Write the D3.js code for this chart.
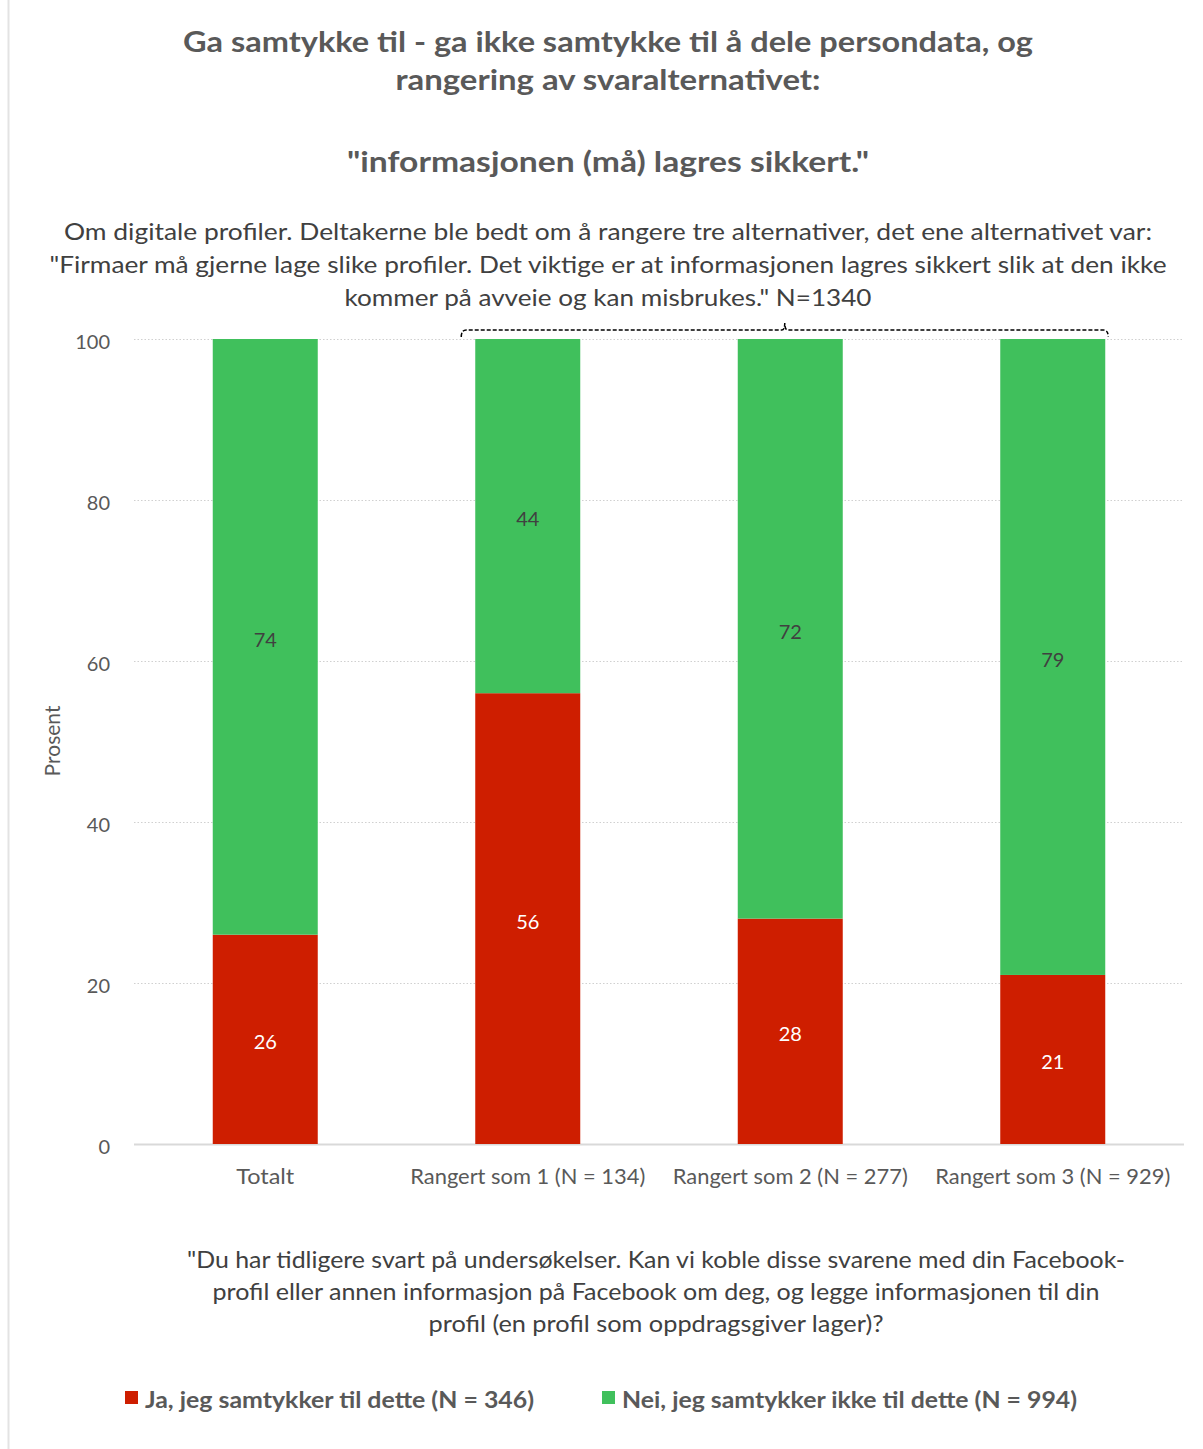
<!DOCTYPE html>
<html><head><meta charset="utf-8">
<script src="https://cdn.jsdelivr.net/npm/d3@7"></script>
<style>body{margin:0;background:#fff}svg{display:block}text{font-family:Lato,"Open Sans",sans-serif}</style>
</head><body><div id="c"></div>
<script>
const categories = ["Totalt","Rangert som 1 (N = 134)","Rangert som 2 (N = 277)","Rangert som 3 (N = 929)"];
const jaValues = [26,56,28,21];
const neiValues = [74,44,72,79];
const seriesNames = ["Ja, jeg samtykker til dette (N = 346)","Nei, jeg samtykker ikke til dette (N = 994)"];
const yTicks = [0,20,40,60,80,100];
const titleLines = ["Ga samtykke til - ga ikke samtykke til å dele persondata, og","rangering av svaralternativet:","","\"informasjonen (må) lagres sikkert.\""];
const subtitleLines = ["Om digitale profiler. Deltakerne ble bedt om å rangere tre alternativer, det ene alternativet var:","\"Firmaer må gjerne lage slike profiler. Det viktige er at informasjonen lagres sikkert slik at den ikke","kommer på avveie og kan misbrukes.\" N=1340"];
const captionLines = ["\"Du har tidligere svart på undersøkelser. Kan vi koble disse svarene med din Facebook-","profil eller annen informasjon på Facebook om deg, og legge informasjonen til din","profil (en profil som oppdragsgiver lager)?"];

const W=1203,H=1449;
const colors=["#CE1E00","#40C05C"];
const svg=d3.select("#c").append("svg").attr("width",W).attr("height",H);
svg.append("line").attr("x1",8.5).attr("x2",8.5).attr("y1",0).attr("y2",H).attr("stroke","#e3e3e3").attr("stroke-width",2);

function fitText(sel,w){
  if(w) sel.attr("textLength",w).attr("lengthAdjust","spacingAndGlyphs");
}
const titleY=[52,90,null,172];
const titleW=[850,425,null,522];
titleLines.forEach((t,i)=>{ if(!t) return;
  const s=svg.append("text").attr("x",608).attr("y",titleY[i]).attr("text-anchor","middle").attr("font-size",29).attr("font-weight","bold").attr("fill","#595959").text(t);
  fitText(s,titleW[i]);
});
const subY=[240,273,306], subW=[1088,1117,527];
subtitleLines.forEach((t,i)=>{
  const s=svg.append("text").attr("x",608).attr("y",subY[i]).attr("text-anchor","middle").attr("font-size",23).attr("fill","#404040").text(t);
  fitText(s,subW[i]);
});

const x=d3.scaleBand().domain(categories).range([134,1184]).paddingInner(0.6).paddingOuter(0.3);
const y=d3.scaleLinear().domain([0,100]).range([1144,339]);

svg.append("g").selectAll("line").data(yTicks.filter(d=>d>0)).join("line")
  .attr("x1",134).attr("x2",1184).attr("y1",d=>y(d)+0.5).attr("y2",d=>y(d)+0.5)
  .attr("stroke","#d0d0d0").attr("stroke-width",1.2).attr("stroke-dasharray","1.5,2");
svg.append("line").attr("x1",134).attr("x2",1184).attr("y1",y(0)+0.5).attr("y2",y(0)+0.5).attr("stroke","#d9d9d9").attr("stroke-width",2);

const yAxis=d3.axisLeft(y).tickValues(yTicks).tickSize(0).tickPadding(0);
const ya=svg.append("g").attr("transform","translate(110,2)").call(yAxis);
ya.select(".domain").remove();
ya.selectAll("text").attr("font-size",20).attr("fill","#595959").attr("font-family","Lato,'Open Sans',sans-serif").attr("dy","0.35em");

svg.append("text").attr("transform","translate(60,741) rotate(-90)").attr("text-anchor","middle").attr("font-size",21).attr("fill","#595959").text("Prosent");

const xAxis=d3.axisBottom(x).tickSize(0).tickPadding(0);
const xa=svg.append("g").attr("transform","translate(0,1184)").call(xAxis);
xa.select(".domain").remove();
xa.selectAll("text").attr("font-size",21).attr("fill","#595959").attr("font-family","Lato,'Open Sans',sans-serif").attr("dy",0)
  .each(function(d){ if(d!==categories[0]) fitText(d3.select(this),235); else fitText(d3.select(this),58); });

const data=categories.map((c,i)=>({c,ja:jaValues[i],nei:neiValues[i]}));
const stack=d3.stack().keys(["ja","nei"])(data);
stack.forEach((layer,li)=>{
  const g=svg.append("g");
  g.selectAll("rect").data(layer).join("rect")
    .attr("x",d=>x(d.data.c)).attr("width",x.bandwidth())
    .attr("y",d=>y(d[1])).attr("height",d=>y(d[0])-y(d[1])).attr("fill",colors[li]);
  g.selectAll("text").data(layer).join("text")
    .attr("x",d=>x(d.data.c)+x.bandwidth()/2).attr("y",d=>y((d[0]+d[1])/2)+3).attr("dy","0.35em")
    .attr("text-anchor","middle").attr("font-size",20).attr("fill",li===0?"#ffffff":"#404040")
    .text(d=>d[1]-d[0]);
});

const bx0=x(categories[1])-14, bx1=x(categories[3])+x.bandwidth()+3, by=330;
const mid=(bx0+bx1)/2;
svg.append("path").attr("d",`M${bx0},${by+7} Q${bx0},${by} ${bx0+5},${by} L${mid-3},${by} Q${mid},${by} ${mid},${by-7} Q${mid},${by} ${mid+3},${by} L${bx1-5},${by} Q${bx1},${by} ${bx1},${by+7}`)
  .attr("fill","none").attr("stroke","#000").attr("stroke-width",1.5).attr("stroke-dasharray","4,2");

const capY=[1268,1300,1332], capW=[938,887,455];
captionLines.forEach((t,i)=>{
  const s=svg.append("text").attr("x",656).attr("y",capY[i]).attr("text-anchor","middle").attr("font-size",23).attr("fill","#404040").text(t);
  fitText(s,capW[i]);
});

const legX=[125,602], legW=[389,455];
seriesNames.forEach((n,i)=>{
  svg.append("rect").attr("x",legX[i]).attr("y",1391).attr("width",13).attr("height",13).attr("fill",colors[i]);
  const s=svg.append("text").attr("x",legX[i]+20).attr("y",1408).attr("font-size",23).attr("font-weight","bold").attr("fill","#595959").text(n);
  fitText(s,legW[i]);
});
</script></body></html>
